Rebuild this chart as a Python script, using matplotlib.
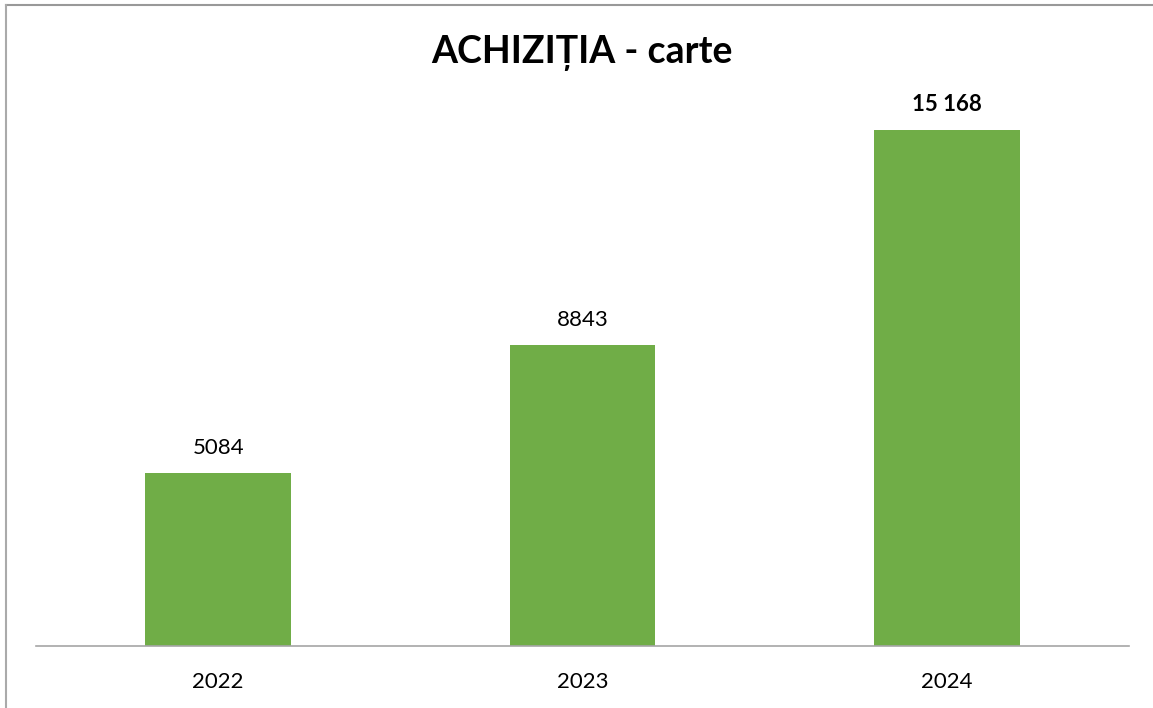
import matplotlib.pyplot as plt
from matplotlib.lines import Line2D

plt.rcParams['font.family'] = ['Lato', 'DejaVu Sans']

years = ["2022", "2023", "2024"]
counts = [5084, 8843, 15168]
value_labels = ["5084", "8843", "15 168"]
bold_label = [False, False, True]

bar_clr = "#70AD47"

W, H = 1153, 708
fig = plt.figure(figsize=(W / 100, H / 100), dpi=100)

# plot area: x 36..1129 px, baseline at y=646 px
left, right = 36 / W, 1129 / W
bottom = 1 - 646 / H
top = 1 - 34 / H
ax = fig.add_axes([left, bottom, right - left, top - bottom])

xs = range(len(years))
ax.bar(xs, counts, width=0.4, color=bar_clr)
ax.set_xlim(-0.5, len(years) - 0.5)
ax.set_ylim(0, 18000)

for x, v, lab, b in zip(xs, counts, value_labels, bold_label):
    ax.annotate(lab, (x, v), xytext=(0, 11), textcoords='offset points',
                ha='center', va='bottom', fontsize=16,
                fontweight='bold' if b else 'normal', color='black')

ax.set_xticks(list(xs))
ax.set_xticklabels(years, fontsize=16)
ax.tick_params(axis='x', length=0, pad=19)
ax.set_yticks([])
for s in ['top', 'right', 'left']:
    ax.spines[s].set_visible(False)
ax.spines['bottom'].set_color('#A6A6A6')
ax.spines['bottom'].set_linewidth(1.2)

fig.text(582 / W, 1 - 53 / H, "ACHIZIȚIA - carte", ha='center', va='center',
         fontsize=27, fontweight='bold')

# chart border (top and left edges visible)
fig.add_artist(Line2D([6 / W, 1], [1 - 5 / H, 1 - 5 / H], color='#999999', lw=1.5,
                      transform=fig.transFigure))
fig.add_artist(Line2D([6 / W, 6 / W], [0, 1 - 5 / H], color='#AAAAAA', lw=1.5,
                      transform=fig.transFigure))

fig.savefig("out.png", dpi=100)
